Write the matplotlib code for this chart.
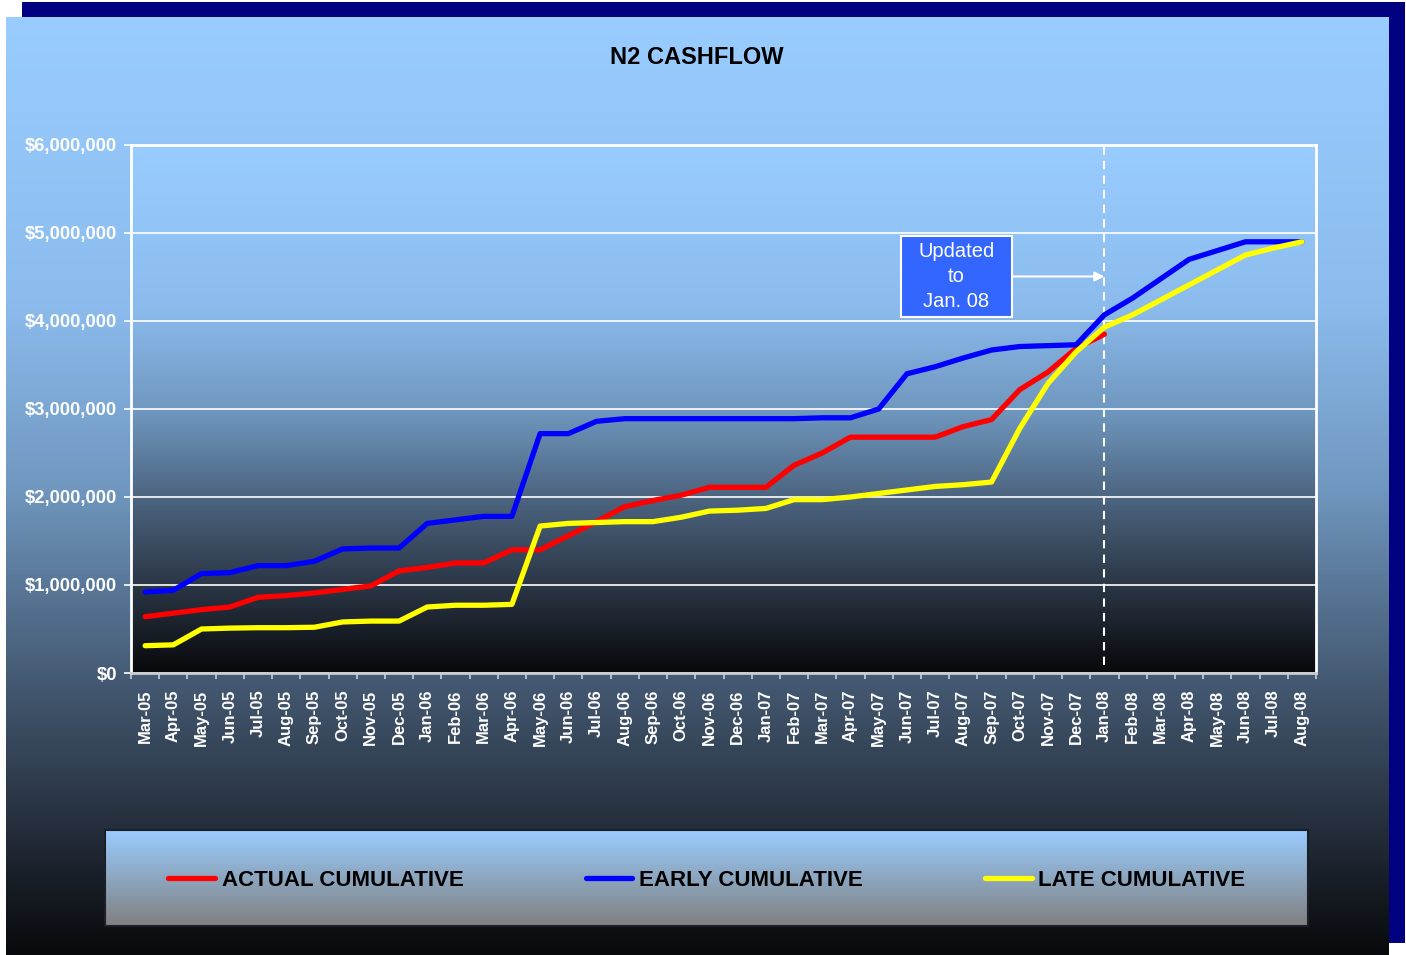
import numpy as np
import matplotlib
matplotlib.use("Agg")
import matplotlib.pyplot as plt
from matplotlib.colors import LinearSegmentedColormap
from matplotlib.patches import Rectangle
from matplotlib.ticker import FuncFormatter, FixedLocator

plt.rcParams["font.family"] = ["Liberation Sans", "DejaVu Sans"]

months = ["Mar-05", "Apr-05", "May-05", "Jun-05", "Jul-05", "Aug-05", "Sep-05",
          "Oct-05", "Nov-05", "Dec-05", "Jan-06", "Feb-06", "Mar-06", "Apr-06",
          "May-06", "Jun-06", "Jul-06", "Aug-06", "Sep-06", "Oct-06", "Nov-06",
          "Dec-06", "Jan-07", "Feb-07", "Mar-07", "Apr-07", "May-07", "Jun-07",
          "Jul-07", "Aug-07", "Sep-07", "Oct-07", "Nov-07", "Dec-07", "Jan-08",
          "Feb-08", "Mar-08", "Apr-08", "May-08", "Jun-08", "Jul-08", "Aug-08"]

# cumulative cashflow, millions of dollars
actual = [0.64, 0.68, 0.72, 0.75, 0.86, 0.88, 0.91, 0.95, 0.99, 1.16, 1.20, 1.25,
          1.25, 1.40, 1.40, 1.56, 1.72, 1.89, 1.96, 2.02, 2.11, 2.11, 2.11, 2.36,
          2.50, 2.68, 2.68, 2.68, 2.68, 2.80, 2.88, 3.22, 3.42, 3.69, 3.85]

early = [0.92, 0.94, 1.13, 1.14, 1.22, 1.22, 1.27, 1.41, 1.42, 1.42, 1.70, 1.74,
         1.78, 1.78, 2.72, 2.72, 2.86, 2.89, 2.89, 2.89, 2.89, 2.89, 2.89, 2.89,
         2.90, 2.90, 3.00, 3.40, 3.48, 3.58, 3.67, 3.71, 3.72, 3.73, 4.07, 4.26,
         4.48, 4.70, 4.80, 4.90, 4.90, 4.90]

late = [0.31, 0.32, 0.50, 0.51, 0.515, 0.515, 0.52, 0.58, 0.59, 0.59, 0.75, 0.77,
        0.77, 0.78, 1.67, 1.70, 1.71, 1.72, 1.72, 1.77, 1.84, 1.85, 1.87, 1.97,
        1.97, 2.00, 2.04, 2.08, 2.12, 2.14, 2.17, 2.78, 3.29, 3.65, 3.93, 4.07,
        4.24, 4.41, 4.58, 4.75, 4.83, 4.90]

update_month = "Jan-08"

W, H = 1406, 955
fig = plt.figure(figsize=(W / 100, H / 100), dpi=100, facecolor="white")

# background panel with shadow
bg = fig.add_axes([0, 0, 1, 1], zorder=-10)
bg.set_xlim(0, W)
bg.set_ylim(H, 0)
bg.axis("off")

sky = LinearSegmentedColormap.from_list("sky", [
    (0.0, (153/255, 204/255, 255/255)),
    (0.3, (140/255, 188/255, 238/255)),
    (0.5, (112/255, 152/255, 192/255)),
    (0.65, (80/255, 106/255, 135/255)),
    (0.8, (50/255, 64/255, 82/255)),
    (1.0, (8/255, 9/255, 12/255)),
])
grad = np.linspace(0, 1, 256).reshape(-1, 1)

bg.add_patch(Rectangle((22, 2), 1383, 941, facecolor="#000080", edgecolor="none"))
bg.imshow(grad, cmap=sky, extent=[6, 1389, 955, 18], aspect="auto", zorder=1)

# legend box
grey = LinearSegmentedColormap.from_list("grey", [(153/255, 204/255, 255/255), (128/255, 128/255, 128/255)])
bg.imshow(grad, cmap=grey, extent=[105, 1308, 926, 830], aspect="auto", zorder=2)
bg.add_patch(Rectangle((105, 830), 1203, 96, facecolor="none", edgecolor="#1a1f28", lw=1.5, zorder=3))

# main plot
ax = fig.add_axes([131 / W, 1 - 673 / H, 1185 / W, 528 / H])
ax.patch.set_visible(False)
ax.imshow(grad, cmap=sky, extent=[0, 1, 0, 1], transform=ax.transAxes, aspect="auto", zorder=0)

x = np.arange(len(months))
actual_full = np.full(len(months), np.nan)
actual_full[:len(actual)] = actual

ax.plot(x, actual_full * 1e6, color="#ff0000", lw=3.8, solid_joinstyle="round",
        solid_capstyle="round", label="ACTUAL CUMULATIVE", zorder=3)
ax.plot(x, np.array(early) * 1e6, color="#0000ff", lw=3.8, solid_joinstyle="round",
        solid_capstyle="round", label="EARLY CUMULATIVE", zorder=3)
ax.plot(x, np.array(late) * 1e6, color="#ffff00", lw=3.8, solid_joinstyle="round",
        solid_capstyle="round", label="LATE CUMULATIVE", zorder=3)

ax.set_xlim(-0.5, len(months) - 0.5)
ax.set_ylim(0, 6e6)
ax.set_yticks(np.arange(0, 6e6 + 1, 1e6))
ax.yaxis.set_major_formatter(FuncFormatter(lambda v, p: "${:,.0f}".format(v)))
ax.grid(axis="y", color="white", lw=1.2, zorder=1)
ax.set_axisbelow(True)

ax.set_xticks(x)
ax.set_xticklabels(months, rotation=90)
ax.xaxis.set_minor_locator(FixedLocator(np.arange(-0.5, len(months), 1)))
ax.tick_params(axis="x", which="major", length=0, pad=12, labelsize=12, labelcolor="white")
ax.tick_params(axis="x", which="minor", length=4, color="#c8d0d8", width=1.2)
ax.tick_params(axis="y", length=5, color="white", width=1.2, pad=5, labelsize=13.2, labelcolor="white")
for lab in ax.get_xticklabels() + ax.get_yticklabels():
    lab.set_fontweight("bold")
for s in ax.spines.values():
    s.set_color("white")
    s.set_linewidth(2)
ax.spines["bottom"].set_color("#c8ccd0")

# update marker
ux = months.index(update_month)
ax.axvline(ux, ymin=0.015, ymax=1, color="white", lw=1.5, ls=(0, (4, 3)), zorder=2)
ax.add_patch(Rectangle((0.650, 0.674), 0.0937, 0.153, transform=ax.transAxes,
                       facecolor="#3366ff", edgecolor="white", lw=1.5, zorder=4))
ax.text(0.6966, 0.751, "Updated\nto\nJan. 08", transform=ax.transAxes, ha="center",
        va="center", color="white", fontsize=14.5, linespacing=1.38, zorder=5)
ax.annotate("", xy=(ux, 0.751), xycoords=("data", "axes fraction"),
            xytext=(0.7437, 0.751), textcoords="axes fraction",
            arrowprops=dict(arrowstyle="-|>", color="white", lw=1.5, mutation_scale=14,
                            shrinkA=0, shrinkB=0),
            zorder=5)

fig.text(697 / W, 1 - 58 / H, "N2 CASHFLOW", ha="center", va="center",
         fontsize=17, fontweight="bold", color="black")

leg = ax.legend(loc="center", bbox_to_anchor=(707 / W, 1 - 880 / H),
                bbox_transform=fig.transFigure, ncol=3, frameon=False,
                handlelength=2.1, handletextpad=0.3, columnspacing=5.5,
                prop={"size": 16, "weight": "bold"})
for t in leg.get_texts():
    t.set_color("black")

fig.savefig("out.png", dpi=100, facecolor="white")
